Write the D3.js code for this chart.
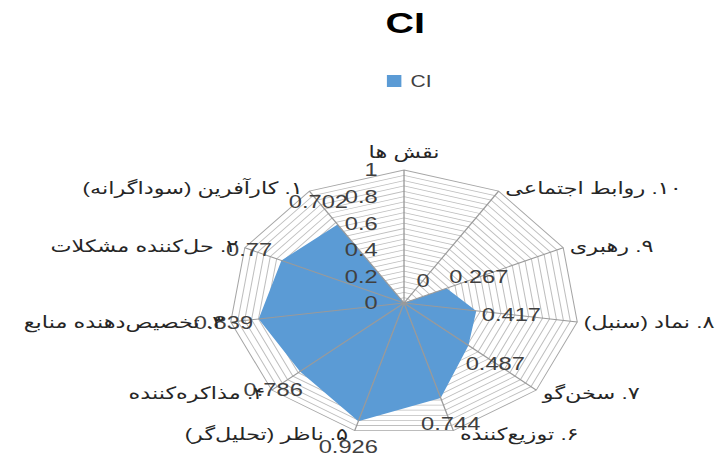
<!DOCTYPE html>
<html>
<head>
<meta charset="utf-8">
<script src="https://cdn.jsdelivr.net/npm/d3@7"></script>
<style>
  html, body { margin: 0; padding: 0; background: #fff; }
  svg { display: block; }
</style>
</head>
<body>
<div id="chart"></div>
<script>
// categories in clockwise order starting at the top
const categories = [
  "نقش ها",
  "۱۰. روابط اجتماعی",
  "۹. رهبری",
  "۸. نماد (سنبل)",
  "۷. سخن‌گو",
  "۶. توزیع‌کننده",
  "۵. ناظر (تحلیل‌گر)",
  "۴. مذاکره‌کننده",
  "۳. تخصیص‌دهنده منابع",
  "۲. حل‌کننده مشکلات",
  "۱. کارآفرین (سوداگرانه)"
];
const ciValues = [null, 0, 0.267, 0.417, 0.487, 0.744, 0.926, 0.786, 0.839, 0.77, 0.702];
const tickValues = [0, 0.2, 0.4, 0.6, 0.8, 1];
const seriesName = "CI";

// the picture is stretched sideways, so draw in a narrow box and stretch it
const outW = 720, outH = 459;
const stretch = 1.316;
const W = outW / stretch, H = outH;
const cx = 307, cy = 303, R = 133;
const numFont = "'Liberation Sans', Arial, sans-serif";
const faFont = "'Liberation Sans', 'DejaVu Sans', sans-serif";

const svg = d3.select("#chart").append("svg")
  .attr("width", outW)
  .attr("height", outH)
  .attr("viewBox", `0 0 ${W} ${H}`)
  .attr("preserveAspectRatio", "none");

const r = d3.scaleLinear().domain([0, 1]).range([0, R]);
const angle = d3.scaleLinear().domain([0, categories.length]).range([0, 2 * Math.PI]);
const pt = (i, v) => [cx + r(v) * Math.sin(angle(i)), cy - r(v) * Math.cos(angle(i))];

// title
svg.append("text")
  .attr("x", 308).attr("y", 22)
  .attr("text-anchor", "middle")
  .attr("dominant-baseline", "central")
  .style("font-family", numFont)
  .style("font-weight", "bold")
  .style("font-size", "30px")
  .style("fill", "#000")
  .text(seriesName);

// legend
svg.append("rect")
  .attr("x", 294).attr("y", 75)
  .attr("width", 11).attr("height", 12)
  .attr("fill", "#5B9BD5");
svg.append("text")
  .attr("x", 312).attr("y", 81)
  .attr("dominant-baseline", "central")
  .style("font-family", numFont)
  .style("font-size", "16px")
  .style("fill", "#404040")
  .text(seriesName);

// minor rings every 0.04
const rings = d3.range(1, 26).map(k => k / 25);
const g = svg.append("g");
g.selectAll(".ring")
  .data(rings)
  .enter().append("polygon")
  .attr("class", "ring")
  .attr("points", v => categories.map((c, i) => pt(i, v).join(",")).join(" "))
  .attr("fill", "none")
  .attr("stroke", v => v === 1 ? "#A6A6A6" : "#BFBFBF")
  .attr("stroke-width", 0.8);

// series area
g.append("polygon")
  .attr("points", ciValues.map((v, i) => pt(i, v || 0).join(",")).join(" "))
  .attr("fill", "#5B9BD5");

// spokes
g.selectAll(".spoke")
  .data(categories)
  .enter().append("line")
  .attr("x1", cx).attr("y1", cy)
  .attr("x2", (c, i) => pt(i, 1)[0])
  .attr("y2", (c, i) => pt(i, 1)[1])
  .attr("stroke", "#9A9A9A")
  .attr("stroke-width", 1);

// value ticks on the top axis
g.selectAll(".tick")
  .data(tickValues)
  .enter().append("text")
  .attr("x", cx - 20)
  .attr("y", v => cy - r(v))
  .attr("text-anchor", "end")
  .attr("dominant-baseline", "central")
  .style("font-family", numFont)
  .style("font-size", "18px")
  .style("fill", "#404040")
  .text(d3.format("~g"));

// data labels, pushed out along each axis
g.selectAll(".dlabel")
  .data(ciValues.map((v, i) => ({ v, i })).filter(d => d.v !== null))
  .enter().append("text")
  .attr("x", d => cx + (r(d.v) + 27) * Math.sin(angle(d.i)))
  .attr("y", d => cy - (r(d.v) + 27) * Math.cos(angle(d.i)))
  .attr("text-anchor", "middle")
  .attr("dominant-baseline", "central")
  .style("font-family", numFont)
  .style("font-size", "18px")
  .style("fill", "#404040")
  .text(d => String(d.v));

// category labels
g.selectAll(".clabel")
  .data(categories)
  .enter().append("text")
  .attr("direction", "rtl")
  .attr("x", (c, i) => {
    const s = Math.sin(angle(i));
    const x = pt(i, 1)[0];
    return Math.abs(s) < 0.1 ? x : x + (s > 0 ? 5 : -5);
  })
  .attr("y", (c, i) => {
    const y = pt(i, 1)[1];
    return i === 0 ? y - 18 : y - Math.cos(angle(i)) * 4;
  })
  .attr("text-anchor", (c, i) => {
    const s = Math.sin(angle(i));
    return Math.abs(s) < 0.1 ? "middle" : (s > 0 ? "end" : "start");
  })
  .attr("dominant-baseline", "central")
  .style("font-family", faFont)
  .style("font-size", "17px")
  .style("fill", "#262626")
  .text(c => c);
</script>
</body>
</html>
